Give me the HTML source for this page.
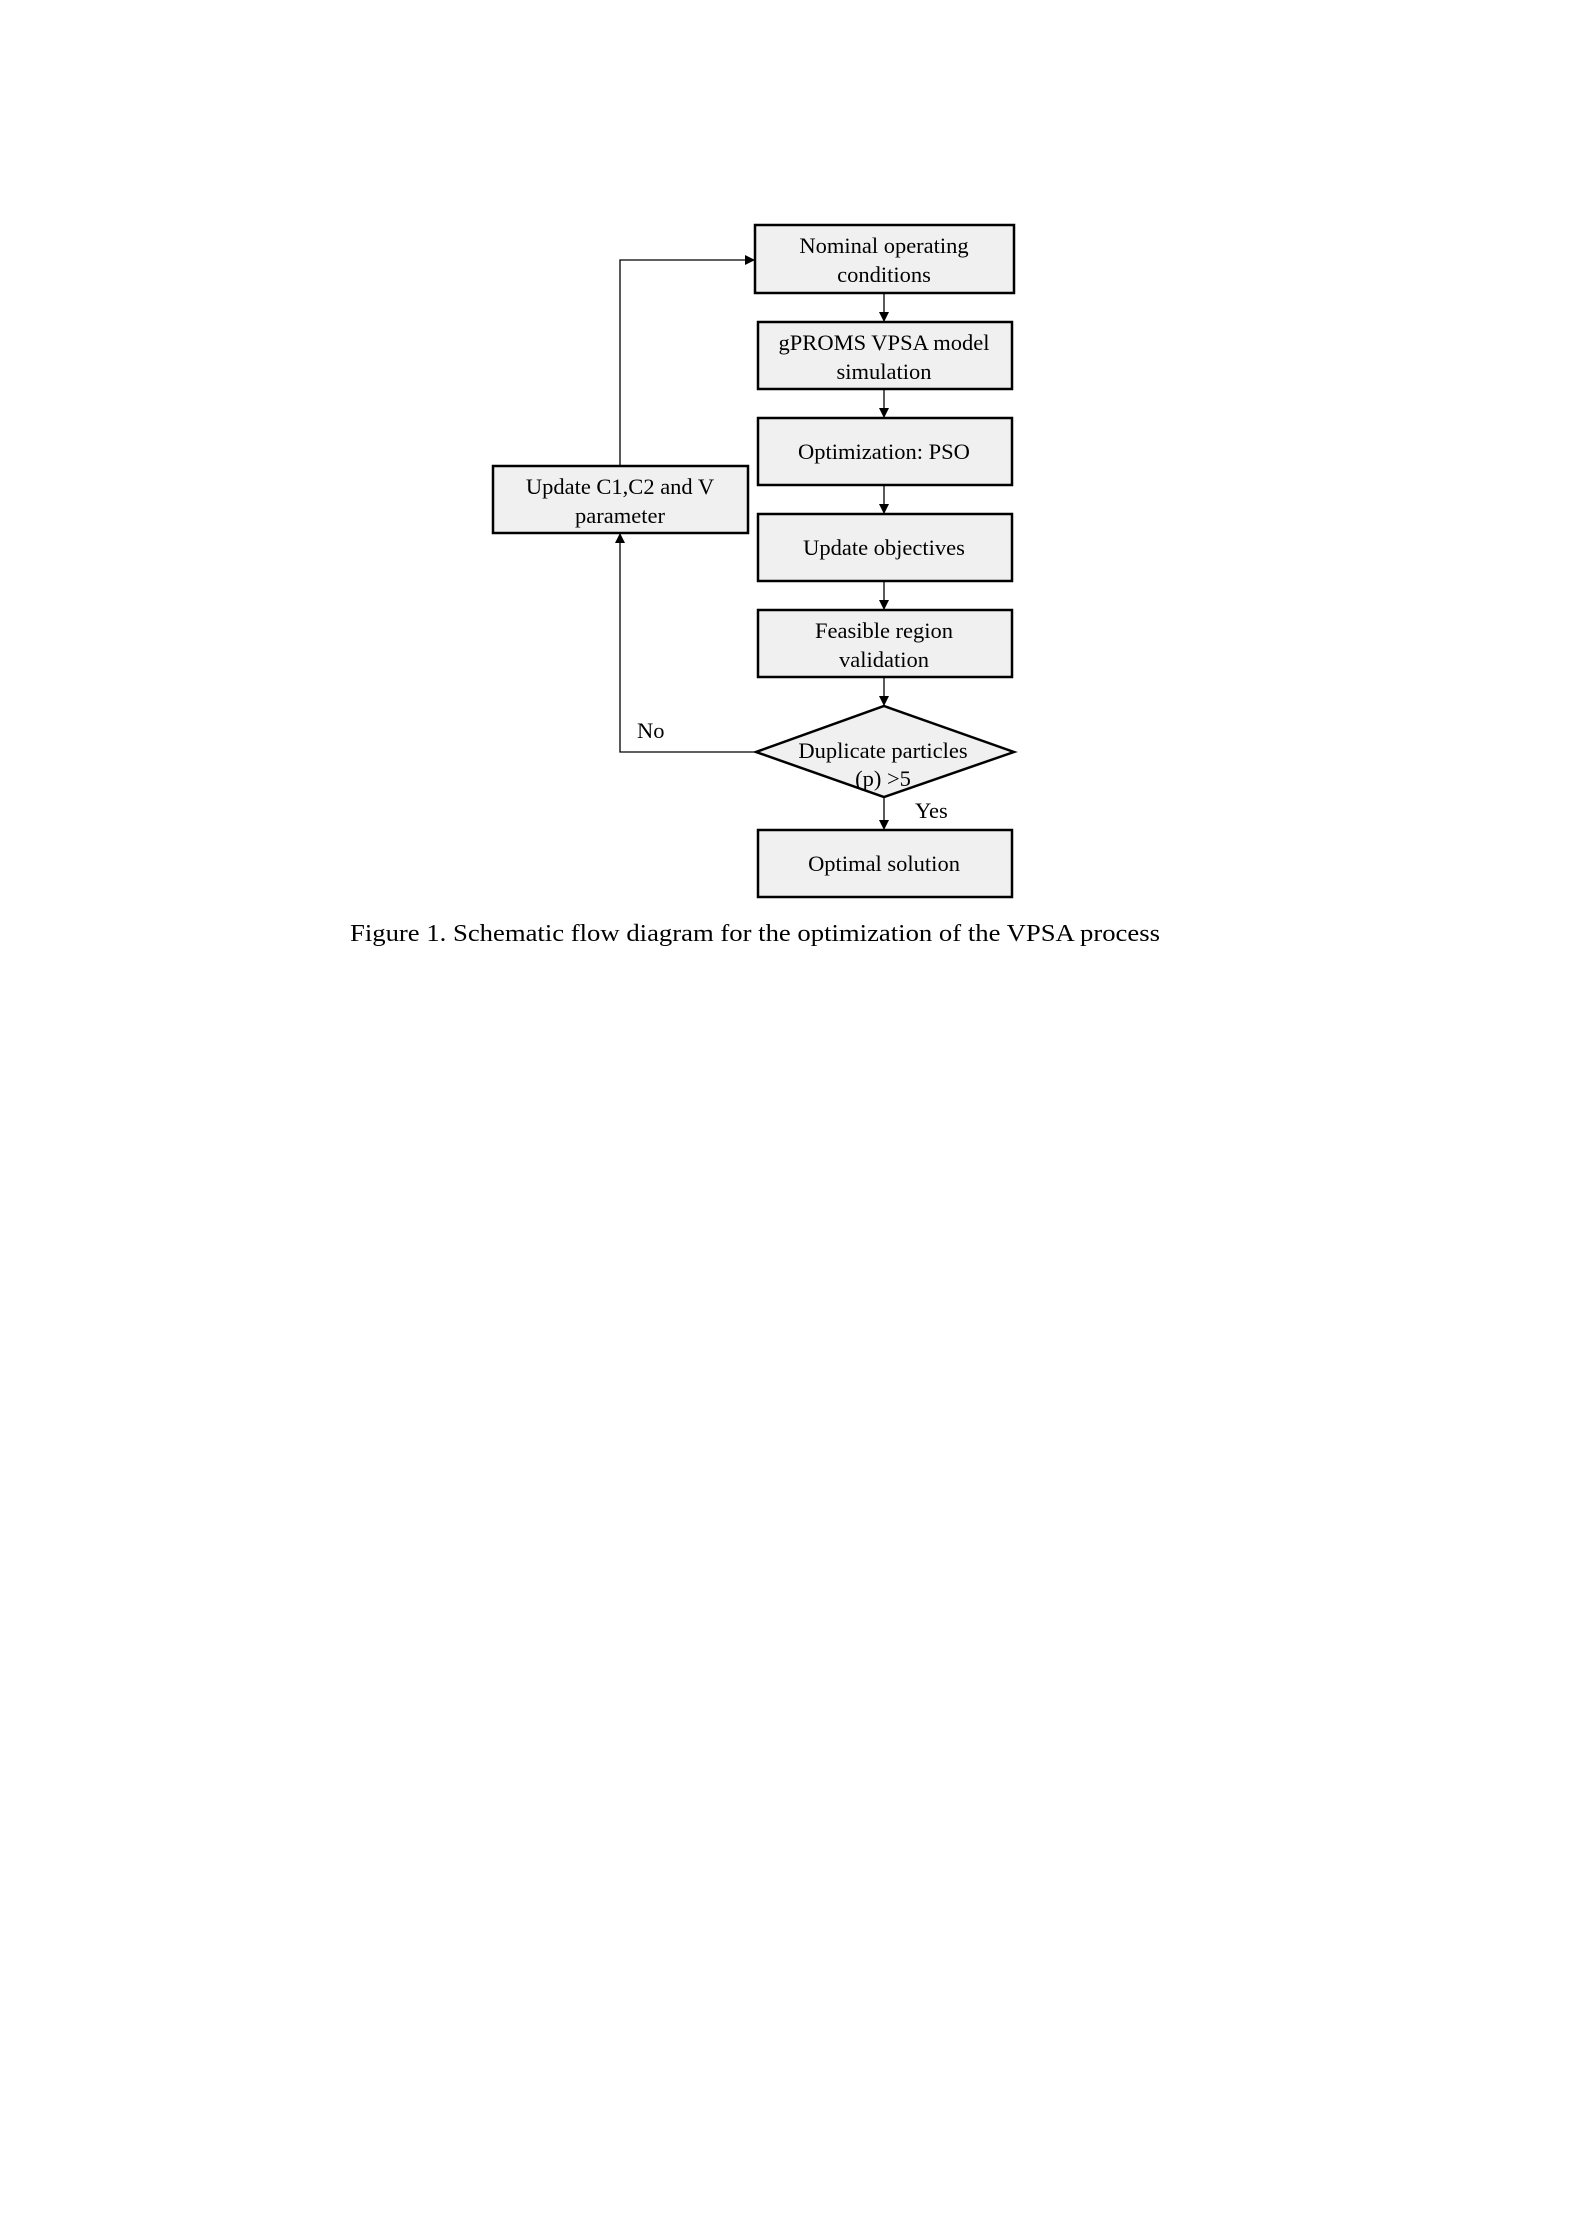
<!DOCTYPE html>
<html><head><meta charset="utf-8"><style>
html,body{margin:0;padding:0;background:#fff;}
svg{display:block;}
text{font-family:"Liberation Serif",serif;font-size:22.5px;fill:#000;}
</style></head><body>
<svg width="1580" height="2234" viewBox="0 0 1580 2234" xmlns="http://www.w3.org/2000/svg">
<defs><marker id="a" markerWidth="10" markerHeight="10" refX="9" refY="5" orient="auto" markerUnits="userSpaceOnUse"><path d="M0,0 L10,5 L0,10 z" fill="#000"/></marker></defs>
<g transform="translate(-3,-2)">
<g fill="#f0f0f0" stroke="#000" stroke-width="2.5">
<rect x="758" y="227" width="259" height="68"/>
<rect x="761" y="324" width="254" height="67"/>
<rect x="761" y="420" width="254" height="67"/>
<rect x="761" y="516" width="254" height="67"/>
<rect x="761" y="612" width="254" height="67"/>
<rect x="496" y="468" width="255" height="67"/>
<polygon points="887,708 1017,754 887,799 759,754"/>
<rect x="761" y="832" width="254" height="67"/>
</g>
<g stroke="#000" stroke-width="1.3" fill="none">
<line x1="887" y1="295" x2="887" y2="323" marker-end="url(#a)"/>
<line x1="887" y1="391" x2="887" y2="419" marker-end="url(#a)"/>
<line x1="887" y1="487" x2="887" y2="515" marker-end="url(#a)"/>
<line x1="887" y1="583" x2="887" y2="611" marker-end="url(#a)"/>
<line x1="887" y1="679" x2="887" y2="707" marker-end="url(#a)"/>
<line x1="887" y1="799" x2="887" y2="831" marker-end="url(#a)"/>
<polyline points="759,754 623,754 623,536" marker-end="url(#a)"/>
<polyline points="623,468 623,262 757,262" marker-end="url(#a)"/>
</g>
<g text-anchor="middle">
<text x="887" y="255">Nominal operating</text>
<text x="887" y="284">conditions</text>
<text x="887" y="352">gPROMS VPSA model</text>
<text x="887" y="381">simulation</text>
<text x="887" y="461">Optimization: PSO</text>
<text x="887" y="557">Update objectives</text>
<text x="887" y="640">Feasible region</text>
<text x="887" y="669">validation</text>
<text x="623" y="496">Update C1,C2 and V</text>
<text x="623" y="525">parameter</text>
<text x="886" y="760">Duplicate particles</text>
<text x="886" y="788">(p) &gt;5</text>
<text x="887" y="873">Optimal solution</text>
</g>
<text x="640" y="740">No</text>
<text x="918" y="820">Yes</text>
<text x="353" y="943" textLength="810" lengthAdjust="spacingAndGlyphs" style="font-size:24px">Figure 1. Schematic flow diagram for the optimization of the VPSA process</text>
</g>
</svg>
</body></html>
